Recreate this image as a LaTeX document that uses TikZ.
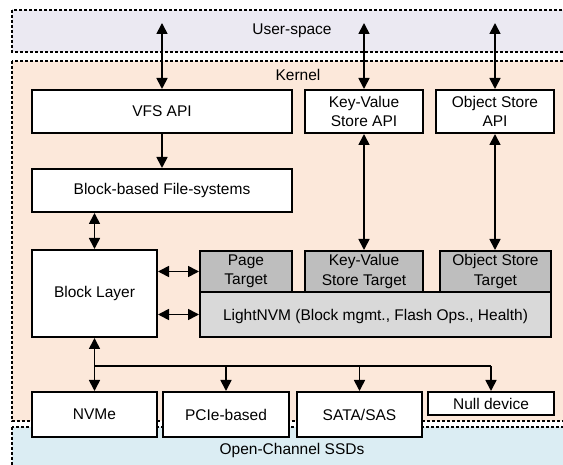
\documentclass[tikz,border=0pt]{standalone}
\usepackage{fontspec}
\setmainfont{Liberation Sans}
\usetikzlibrary{arrows.meta}
\definecolor{userbg}{RGB}{235,233,242}
\definecolor{kernbg}{RGB}{252,232,218}
\definecolor{ssdbg}{RGB}{219,237,243}
\definecolor{tgtgray}{RGB}{190,190,190}
\definecolor{nvmgray}{RGB}{217,217,217}
\tikzset{
  region/.style={draw=black, line width=1.3pt, dash pattern=on 3pt off 2pt},
  box/.style={draw=black, fill=white, line width=2pt, inner sep=1pt, align=center,
    font=\fontsize{15.5}{19.5}\selectfont},
  tgt/.style={box, fill=tgtgray},
  nvm/.style={box, fill=nvmgray},
  lbl/.style={font=\fontsize{15.5}{19.5}\selectfont},
  dbl/.style={line width=1.7pt, {Triangle[length=11pt,width=11pt]}-{Triangle[length=11pt,width=11pt]}},
  sgl/.style={line width=1.7pt, -{Triangle[length=11pt,width=11pt]}},
  bus/.style={line width=1.7pt}
}
\begin{document}
\begin{tikzpicture}[x=1pt,y=-1pt]
\useasboundingbox (0,0) rectangle (563,465);
\clip (0,0) rectangle (563,465);
% regions
\draw[region, fill=userbg] (12,10) rectangle (575,52);
\draw[region, fill=kernbg] (12,61) rectangle (575,421);
\draw[region, fill=ssdbg] (12,427) rectangle (575,480);
\node[lbl] (userlbl) at (292,31) {User-space};
\node[lbl] (kernlbl) at (298,75) {Kernel};
\node[lbl] (ssdlbl) at (292,450) {Open-Channel SSDs};
% boxes
\node[box, minimum width=260pt, minimum height=43pt] (vfs) at (162,111.5) {VFS API};
\node[box, minimum width=118pt, minimum height=43pt] (kvapi) at (364,111.5) {Key-Value\\Store API};
\node[box, minimum width=118pt, minimum height=43pt] (osapi) at (495,111.5) {Object Store\\API};
\node[box, minimum width=260pt, minimum height=43pt] (bfs) at (162,190.5) {Block-based File-systems};
\node[box, minimum width=125pt, minimum height=87pt] (blk) at (94.5,293.5) {Block Layer};
\node[nvm, minimum width=351pt, minimum height=45pt, text depth=0pt] (lnvm) at (375.5,314.5) {LightNVM (Block mgmt., Flash Ops., Health)};
\node[tgt, minimum width=92pt, minimum height=41pt] (page) at (246,271.5) {Page\\Target};
\node[tgt, minimum width=118pt, minimum height=41pt] (kvt) at (364,271.5) {Key-Value\\Store Target};
\node[tgt, minimum width=111pt, minimum height=41pt] (ost) at (495.5,271.5) {Object Store\\Target};
\node[box, minimum width=125pt, minimum height=45pt] (nvme) at (94.5,414.5) {NVMe};
\node[box, minimum width=126pt, minimum height=45pt] (pcie) at (226,414.5) {PCIe-based};
\node[box, minimum width=125pt, minimum height=45pt] (sata) at (359.5,414.5) {SATA/SAS};
\node[box, minimum width=126pt, minimum height=23pt] (null) at (491,403.5) {Null device};
% user-space endpoints
\coordinate (u1) at (162,23);
\coordinate (u2) at (364,23);
\coordinate (u3) at (495,23);
\coordinate (busL) at (94.5,366);
\coordinate (busR) at (491,366);
% connectors
\draw[dbl] (u1) -- (vfs.north);
\draw[dbl] (u2) -- (kvapi.north);
\draw[dbl] (u3) -- (osapi.north);
\draw[sgl] (vfs.south) -- (bfs.north);
\draw[dbl] (blk.north |- bfs.south) -- (blk.north);
\draw[dbl] (blk.east |- page.west) -- (page.west);
\draw[dbl] (blk.east |- lnvm.west) -- (lnvm.west);
\draw[dbl] (kvapi.south) -- (kvt.north);
\draw[dbl] (osapi.south) -- (osapi.south |- ost.north);
\draw[dbl] (blk.south) -- (nvme.north);
\draw[bus] (busL) -- (busR);
\draw[sgl] (pcie.north |- busL) -- (pcie.north);
\draw[sgl] (sata.north |- busL) -- (sata.north);
\draw[sgl] (busR) -- (null.north);
\end{tikzpicture}
\end{document}
